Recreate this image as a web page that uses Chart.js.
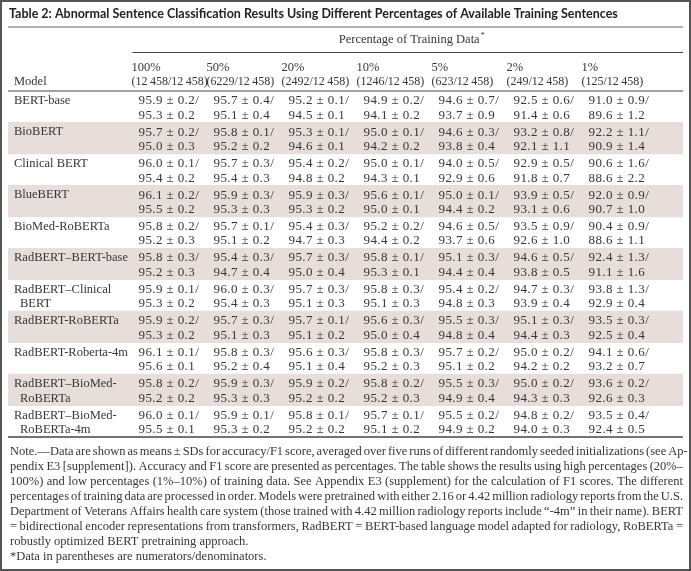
<!DOCTYPE html>
<html><head><meta charset="utf-8">
<script src="https://cdn.jsdelivr.net/npm/chart.js@4/dist/chart.umd.min.js"></script>
<style>html,body{margin:0;padding:0;background:#fff;}canvas{display:block;}</style>
</head><body>
<canvas id="c" width="691" height="571"></canvas>
<script>
const titleText = 'Table 2: Abnormal Sentence Classification Results Using Different Percentages of Available Training Sentences';
const spannerLabel = 'Percentage of Training Data';
const stubHeader = 'Model';
const percents = ['100%', '50%', '20%', '10%', '5%', '2%', '1%'];
const counts = ['(12\u2009458/12\u2009458)', '(6229/12\u2009458)', '(2492/12\u2009458)', '(1246/12\u2009458)', '(623/12\u2009458)', '(249/12\u2009458)', '(125/12\u2009458)'];
const models = [
  ['BERT-base'], ['BioBERT'], ['Clinical BERT'], ['BlueBERT'], ['BioMed-RoBERTa'],
  ['RadBERT\u2013BERT-base'], ['RadBERT\u2013Clinical', 'BERT'], ['RadBERT-RoBERTa'],
  ['RadBERT-Roberta-4m'], ['RadBERT\u2013BioMed-', 'RoBERTa'], ['RadBERT\u2013BioMed-', 'RoBERTa-4m']
];
const accMean = [
  [95.9, 95.7, 95.2, 94.9, 94.6, 92.5, 91.0],
  [95.7, 95.8, 95.3, 95.0, 94.6, 93.2, 92.2],
  [96.0, 95.7, 95.4, 95.0, 94.0, 92.9, 90.6],
  [96.1, 95.9, 95.9, 95.6, 95.0, 93.9, 92.0],
  [95.8, 95.7, 95.4, 95.2, 94.6, 93.5, 90.4],
  [95.8, 95.4, 95.7, 95.8, 95.1, 94.6, 92.4],
  [95.9, 96.0, 95.7, 95.8, 95.4, 94.7, 93.8],
  [95.9, 95.7, 95.7, 95.6, 95.5, 95.1, 93.5],
  [96.1, 95.8, 95.6, 95.8, 95.7, 95.0, 94.1],
  [95.8, 95.9, 95.9, 95.8, 95.5, 95.0, 93.6],
  [96.0, 95.9, 95.8, 95.7, 95.5, 94.8, 93.5]
];
const accSD = [
  [0.2, 0.4, 0.1, 0.2, 0.7, 0.6, 0.9],
  [0.2, 0.1, 0.1, 0.1, 0.3, 0.8, 1.1],
  [0.1, 0.3, 0.2, 0.1, 0.5, 0.5, 1.6],
  [0.2, 0.3, 0.3, 0.1, 0.1, 0.5, 0.9],
  [0.2, 0.1, 0.3, 0.2, 0.5, 0.9, 0.9],
  [0.3, 0.3, 0.3, 0.1, 0.3, 0.5, 1.3],
  [0.1, 0.3, 0.3, 0.3, 0.2, 0.3, 1.3],
  [0.2, 0.3, 0.1, 0.3, 0.3, 0.3, 0.3],
  [0.1, 0.3, 0.3, 0.3, 0.2, 0.2, 0.6],
  [0.2, 0.3, 0.2, 0.2, 0.3, 0.2, 0.2],
  [0.1, 0.1, 0.1, 0.1, 0.2, 0.2, 0.4]
];
const f1Mean = [
  [95.3, 95.1, 94.5, 94.1, 93.7, 91.4, 89.6],
  [95.0, 95.2, 94.6, 94.2, 93.8, 92.1, 90.9],
  [95.4, 95.4, 94.8, 94.3, 92.9, 91.8, 88.6],
  [95.5, 95.3, 95.3, 95.0, 94.4, 93.1, 90.7],
  [95.2, 95.1, 94.7, 94.4, 93.7, 92.6, 88.6],
  [95.2, 94.7, 95.0, 95.3, 94.4, 93.8, 91.1],
  [95.3, 95.4, 95.1, 95.1, 94.8, 93.9, 92.9],
  [95.3, 95.1, 95.1, 95.0, 94.8, 94.4, 92.5],
  [95.6, 95.2, 95.1, 95.2, 95.1, 94.2, 93.2],
  [95.2, 95.3, 95.2, 95.2, 94.9, 94.3, 92.6],
  [95.5, 95.3, 95.2, 95.1, 94.9, 94.0, 92.4]
];
const f1SD = [
  [0.2, 0.4, 0.1, 0.2, 0.9, 0.6, 1.2],
  [0.3, 0.2, 0.1, 0.2, 0.4, 1.1, 1.4],
  [0.2, 0.3, 0.2, 0.1, 0.6, 0.7, 2.2],
  [0.2, 0.3, 0.2, 0.1, 0.2, 0.6, 1.0],
  [0.3, 0.2, 0.3, 0.2, 0.6, 1.0, 1.1],
  [0.3, 0.4, 0.4, 0.1, 0.4, 0.5, 1.6],
  [0.2, 0.3, 0.3, 0.3, 0.3, 0.4, 0.4],
  [0.2, 0.3, 0.2, 0.4, 0.4, 0.3, 0.4],
  [0.1, 0.4, 0.4, 0.3, 0.2, 0.2, 0.7],
  [0.2, 0.3, 0.2, 0.3, 0.4, 0.3, 0.3],
  [0.1, 0.2, 0.2, 0.2, 0.2, 0.3, 0.5]
];
const shadedRows = [false, true, false, true, false, true, false, true, false, true, false];
const noteLines = [
  'Note.\u2014Data are shown as means \u00b1 SDs for accuracy/F1 score, averaged over five runs of different randomly seeded initializations (see Ap-',
  'pendix E3 [supplement]). Accuracy and F1 score are presented as percentages. The table shows the results using high percentages (20%\u2013',
  '100%) and low percentages (1%\u201310%) of training data. See Appendix E3 (supplement) for the calculation of F1 scores. The different',
  'percentages of training data are processed in order. Models were pretrained with either 2.16 or 4.42 million radiology reports from the U.S.',
  'Department of Veterans Affairs health care system (those trained with 4.42 million radiology reports include \u201c-4m\u201d in their name). BERT',
  '= bidirectional encoder representations from transformers, RadBERT = BERT-based language model adapted for radiology, RoBERTa =',
  'robustly optimized BERT pretraining approach.',
  '*Data in parentheses are numerators/denominators.'
];
const justifiedNoteCount = 6;

const SERIF = '"Liberation Serif", "DejaVu Serif", serif';
const TEXT = '#363636';
const X_MIN = -1.7, X_MAX = 7.3;

function drawJustified(ctx, text, x0, x1, y) {
  const words = text.split(' ');
  let total = 0;
  words.forEach(w => total += ctx.measureText(w).width);
  const gap = Math.max(2, (x1 - x0 - total) / (words.length - 1));
  let x = x0;
  words.forEach(w => { ctx.fillText(w, x, y); x += ctx.measureText(w).width + gap; });
}

const tablePlugin = {
  id: 'tablePlugin',
  beforeDraw(chart) {
    const c = chart.ctx;
    c.save(); c.fillStyle = '#fff'; c.fillRect(0, 0, chart.width, chart.height); c.restore();
  },
  afterDatasetsDraw(chart) {
    const ctx = chart.ctx;
    const xs = chart.scales.x, ys = chart.scales.y, ca = chart.chartArea;
    const left = ca.left, right = ca.right;
    ctx.save();
    ctx.textBaseline = 'middle';
    ctx.textAlign = 'left';
    // title
    let tsize = 11;
    ctx.font = 'bold ' + tsize + 'px Lato';
    tsize = tsize * 609 / ctx.measureText(titleText).width;
    ctx.font = 'bold ' + tsize.toFixed(2) + 'px Lato';
    ctx.fillStyle = '#222';
    ctx.fillText(titleText, 9, 14);
    // rules
    ctx.strokeStyle = '#9a9a9a'; ctx.lineWidth = 1.5;
    ctx.beginPath(); ctx.moveTo(left, 27); ctx.lineTo(right, 27); ctx.stroke();
    ctx.strokeStyle = '#444'; ctx.lineWidth = 1;
    const dataLeft = xs.getPixelForValue(0);
    ctx.beginPath(); ctx.moveTo(dataLeft - 3, 52.5); ctx.lineTo(right, 52.5); ctx.stroke();
    ctx.lineWidth = 1.2;
    ctx.beginPath(); ctx.moveTo(left, ca.top); ctx.lineTo(right, ca.top); ctx.stroke();
    ctx.lineWidth = 1.5;
    ctx.beginPath(); ctx.moveTo(left, ca.bottom); ctx.lineTo(right, ca.bottom); ctx.stroke();

    ctx.fillStyle = TEXT;
    // spanner
    ctx.font = '12.5px ' + SERIF;
    const sw = ctx.measureText(spannerLabel).width;
    const sc = (dataLeft + right) / 2;
    ctx.fillText(spannerLabel, sc - sw / 2, 40);
    ctx.font = '8px ' + SERIF;
    ctx.fillText('*', sc + sw / 2 + 1, 36);
    // column headers
    percents.forEach((p, j) => {
      const px = xs.getPixelForValue(j) - 4;
      ctx.font = '12.5px ' + SERIF;
      ctx.fillText(p, px, 68);
      ctx.font = '12px ' + SERIF;
      ctx.fillText(counts[j], px, 82);
    });
    ctx.font = '12.5px ' + SERIF;
    ctx.fillText(stubHeader, left + 6, 82);
    // body
    models.forEach((lines, i) => {
      const yc = ys.getPixelForValue(i);
      ctx.font = '12.5px ' + SERIF;
      ctx.letterSpacing = '0px';
      lines.forEach((ln, k) => ctx.fillText(ln, left + 6 + (k ? 6 : 0), yc - 6 + k * 14.5));
      ctx.font = '13px ' + SERIF;
      ctx.letterSpacing = '0.4px';
      for (let j = 0; j < percents.length; j++) {
        const px = xs.getPixelForValue(j) + 3;
        ctx.fillText(accMean[i][j].toFixed(1) + ' \u00b1 ' + accSD[i][j].toFixed(1) + '/', px, yc - 6);
        ctx.fillText(f1Mean[i][j].toFixed(1) + ' \u00b1 ' + f1SD[i][j].toFixed(1), px, yc + 8.5);
      }
    });
    ctx.letterSpacing = '0px';
    // notes
    ctx.font = '12.5px ' + SERIF;
    noteLines.forEach((ln, k) => {
      const yy = ca.bottom + 15 + k * 15;
      if (k < justifiedNoteCount) drawJustified(ctx, ln, left + 2, right, yy);
      else ctx.fillText(ln, left + 2, yy);
    });
    // outer border
    ctx.strokeStyle = '#555'; ctx.lineWidth = 2;
    ctx.strokeRect(1, 1, chart.width - 2, chart.height - 2);
    ctx.restore();
  }
};

new Chart(document.getElementById('c'), {
  type: 'bar',
  data: {
    labels: models.map(m => m.join(' ')),
    datasets: [{
      data: shadedRows.map(s => s ? [X_MIN, X_MAX] : null),
      backgroundColor: '#e7dedb',
      borderWidth: 0,
      barPercentage: 1,
      categoryPercentage: 1
    }]
  },
  options: {
    indexAxis: 'y',
    responsive: false,
    animation: false,
    events: [],
    layout: { padding: { top: 91, bottom: 134, left: 8, right: 8 } },
    scales: {
      x: { type: 'linear', min: X_MIN, max: X_MAX, display: false },
      y: { type: 'category', display: false, offset: true, grid: { display: false } }
    },
    plugins: { legend: { display: false }, tooltip: { enabled: false }, title: { display: false } }
  },
  plugins: [tablePlugin]
});
</script>
</body></html>
